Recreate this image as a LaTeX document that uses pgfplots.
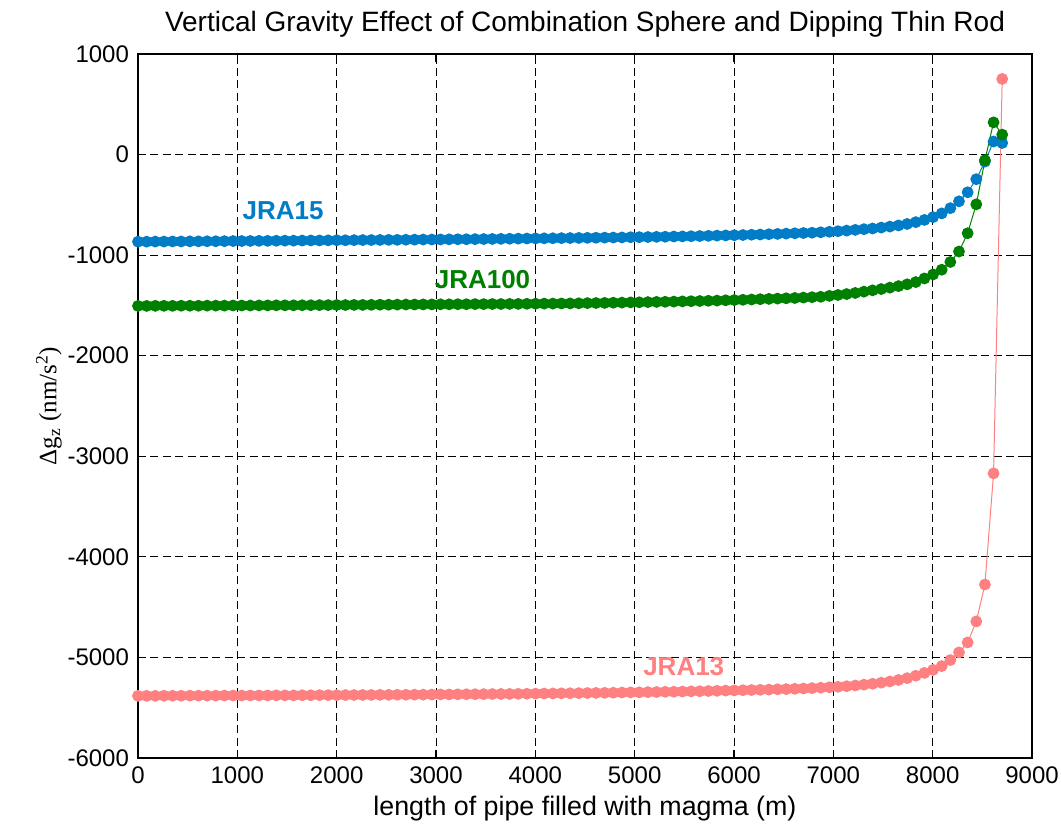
\documentclass[border=0pt]{standalone}
\usepackage{pgfplots}
\pgfplotsset{compat=1.18}
\usepackage{pgfplotstable}
\usepackage{fontspec}
\setmainfont{Liberation Sans}
\newfontfamily\tmsfont{Liberation Serif}
\definecolor{cblue}{RGB}{0,125,198}
\definecolor{cgreen}{RGB}{0,128,0}
\definecolor{cpink}{RGB}{255,128,128}
\pgfplotstableread{
x a b c
0 -866 -1505 -5382
87 -866 -1505 -5382
174 -865 -1504 -5382
261 -865 -1504 -5381
348 -864 -1504 -5381
435 -864 -1503 -5381
522 -863 -1503 -5380
609 -863 -1503 -5380
696 -862 -1502 -5380
783 -862 -1502 -5380
870 -861 -1502 -5379
957 -860 -1501 -5379
1044 -860 -1501 -5379
1131 -859 -1501 -5378
1218 -858 -1500 -5378
1305 -858 -1500 -5378
1392 -857 -1499 -5377
1479 -856 -1499 -5377
1566 -856 -1499 -5377
1653 -855 -1498 -5376
1740 -854 -1498 -5376
1827 -854 -1497 -5375
1914 -853 -1497 -5375
2001 -852 -1496 -5375
2088 -852 -1496 -5374
2175 -851 -1495 -5374
2262 -850 -1495 -5373
2349 -850 -1494 -5373
2436 -849 -1493 -5372
2523 -848 -1493 -5372
2610 -848 -1492 -5371
2697 -847 -1491 -5371
2784 -846 -1491 -5370
2871 -845 -1490 -5370
2958 -845 -1490 -5369
3045 -844 -1489 -5368
3132 -843 -1489 -5368
3219 -842 -1488 -5367
3306 -842 -1488 -5366
3393 -841 -1487 -5366
3480 -840 -1487 -5365
3567 -839 -1486 -5364
3654 -838 -1486 -5363
3741 -837 -1485 -5363
3828 -836 -1485 -5362
3915 -835 -1484 -5361
4002 -834 -1483 -5360
4089 -833 -1482 -5359
4176 -832 -1482 -5358
4263 -831 -1481 -5357
4350 -830 -1480 -5356
4437 -829 -1479 -5355
4524 -828 -1477 -5354
4611 -827 -1476 -5353
4698 -826 -1475 -5352
4785 -825 -1473 -5351
4872 -824 -1472 -5349
4959 -822 -1470 -5348
5046 -821 -1469 -5347
5133 -820 -1467 -5345
5220 -818 -1465 -5344
5307 -817 -1464 -5342
5394 -815 -1462 -5341
5481 -814 -1460 -5339
5568 -812 -1458 -5337
5655 -810 -1456 -5336
5742 -808 -1454 -5334
5829 -806 -1452 -5332
5916 -804 -1449 -5330
6003 -802 -1447 -5328
6090 -800 -1444 -5326
6177 -797 -1441 -5324
6264 -795 -1438 -5322
6351 -792 -1435 -5320
6438 -789 -1432 -5317
6525 -786 -1429 -5315
6612 -783 -1426 -5312
6699 -780 -1422 -5309
6786 -777 -1418 -5305
6873 -773 -1414 -5301
6960 -768 -1405 -5297
7047 -762 -1396 -5292
7134 -756 -1387 -5286
7221 -749 -1376 -5279
7308 -742 -1363 -5271
7395 -735 -1350 -5262
7482 -726 -1337 -5251
7569 -716 -1323 -5239
7656 -705 -1308 -5224
7743 -690 -1290 -5206
7830 -672 -1268 -5182
7917 -650 -1232 -5154
8004 -622 -1192 -5124
8091 -585 -1145 -5086
8178 -533 -1068 -5026
8265 -465 -964 -4950
8352 -375 -782 -4851
8439 -245 -495 -4642
8526 -70 -56 -4275
8613 130 320 -3170
8700 115 198 752
}\datatable
\begin{document}
\begin{tikzpicture}
\begin{axis}[
  scale only axis,
  width=447pt, height=352pt,
  xmin=0, xmax=9000, ymin=-6000, ymax=1000,
  xtick={0,1000,...,9000},
  ytick={-6000,-5000,...,1000},
  scaled ticks=false,
  /pgf/number format/assume math mode=true,
  /pgf/number format/1000 sep={},
  tick label style={font=\fontsize{12}{14}\selectfont},
  xticklabel style={yshift=-1pt},
  yticklabel style={xshift=-1pt},
  tick align=inside, tick pos=both,
  major tick length=4pt,
  axis line style={line width=0.6pt},
  every tick/.style={line width=0.6pt, black},
  grid=major,
  major grid style={black, line width=0.45pt, dash pattern=on 4pt off 2.2pt},
  title={Vertical Gravity Effect of Combination Sphere and Dipping Thin Rod},
  title style={font=\fontsize{14}{16}\selectfont, yshift=-1pt},
  xlabel={length of pipe filled with magma (m)},
  xlabel style={font=\fontsize{13.4}{15}\selectfont, yshift=1pt},
  ylabel={\tmsfont Δg\textsubscript{z} (nm/s\textsuperscript{2})},
  ylabel style={font=\fontsize{12.5}{15}\selectfont, yshift=-4pt},
  clip=false,
]
\addplot[cblue, line width=0.5pt, mark=*, mark size=2.7pt, mark options={solid, fill=cblue, draw=cblue}] table[x=x, y=a] {\datatable};
\addplot[cgreen, line width=0.5pt, mark=*, mark size=2.7pt, mark options={solid, fill=cgreen, draw=cgreen}] table[x=x, y=b] {\datatable};
\addplot[cpink, line width=0.5pt, mark=*, mark size=2.7pt, mark options={solid, fill=cpink, draw=cpink}] table[x=x, y=c] {\datatable};
\node[font=\bfseries\fontsize{13}{15}\selectfont, text=cblue] at (axis cs:1460,-560) {JRA15};
\node[font=\bfseries\fontsize{13}{15}\selectfont, text=cgreen] at (axis cs:3468,-1245) {JRA100};
\node[font=\bfseries\fontsize{13}{15}\selectfont, text=cpink] at (axis cs:5494,-5091) {JRA13};
\end{axis}
\pgfresetboundingbox
\path ([shift={(-69pt,-37.5pt)}]current axis.south west) rectangle ([shift={(14.5pt,27pt)}]current axis.north east);
\end{tikzpicture}
\end{document}
